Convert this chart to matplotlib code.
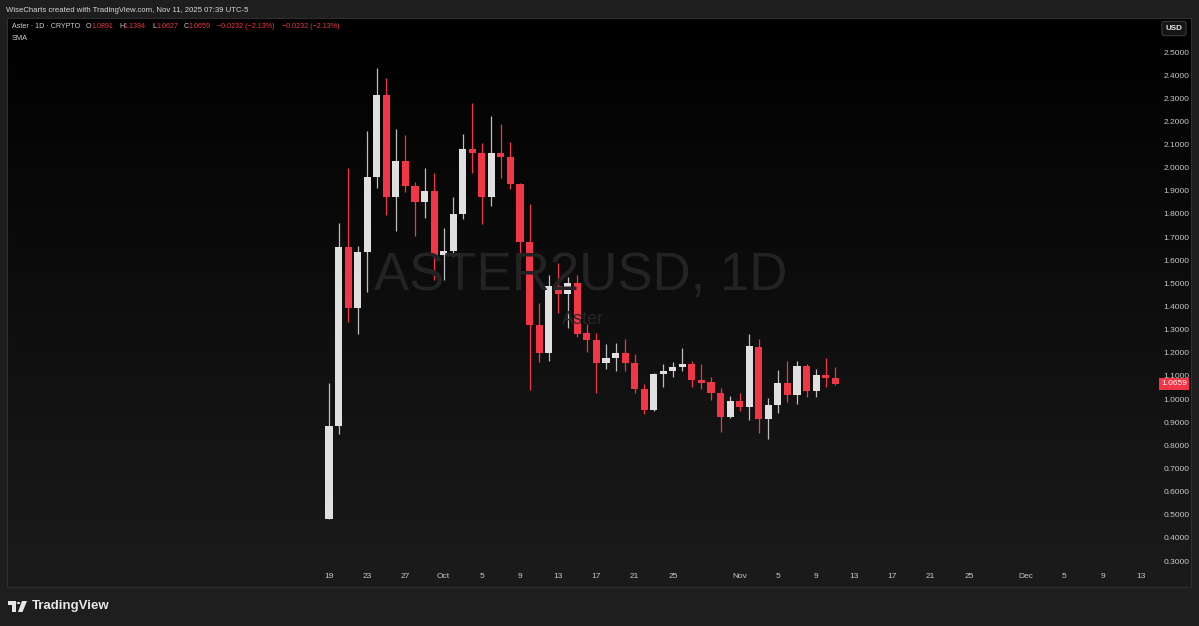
#Aster 1D candlestick chart in TradingView dark style
import numpy as np
import pandas as pd
import matplotlib
matplotlib.use('Agg')
import matplotlib.pyplot as plt
import matplotlib.dates as mdates
from matplotlib.colors import LinearSegmentedColormap
from matplotlib.patches import Polygon, Circle
from matplotlib.transforms import blended_transform_factory

#daily candles, Sep 19 - Nov 11 2025
dates = pd.date_range('2025-09-19', periods=54, freq='D')
opens = [0.48, 0.885, 1.656, 1.392, 1.637, 1.961, 2.313, 1.875, 2.030, 1.921,
         1.853, 1.899, 1.623, 1.640, 1.799, 2.081, 2.062, 1.872, 2.062, 2.045,
         1.930, 1.680, 1.320, 1.201, 1.489, 1.453, 1.503, 1.284, 1.255, 1.157,
         1.176, 1.201, 1.157, 1.042, 0.953, 1.108, 1.121, 1.140, 1.152, 1.083,
         1.075, 1.028, 0.921, 0.993, 0.965, 1.226, 0.913, 0.974, 1.071, 1.018,
         1.143, 1.036, 1.104, 1.0891]
highs = [1.07, 1.76, 1.997, 1.66, 2.159, 2.43, 2.386, 2.166, 2.141, 1.94,
         1.997, 1.976, 1.738, 1.872, 2.146, 2.278, 2.105, 2.223, 2.188, 2.112,
         1.935, 1.843, 1.417, 1.536, 1.587, 1.529, 1.536, 1.325, 1.284, 1.238,
         1.241, 1.258, 1.195, 1.065, 1.114, 1.152, 1.159, 1.220, 1.166, 1.152,
         1.094, 1.047, 1.013, 1.025, 1.281, 1.258, 1.003, 1.126, 1.166, 1.166,
         1.152, 1.129, 1.176, 1.1394]
lows = [0.48, 0.85, 1.335, 1.281, 1.464, 1.911, 1.796, 1.728, 1.896, 1.705,
        1.784, 1.515, 1.515, 1.62, 1.777, 1.976, 1.757, 1.834, 1.954, 1.907,
        1.60, 1.039, 1.162, 1.165, 1.371, 1.306, 1.27, 1.205, 1.025, 1.129,
        1.123, 1.123, 1.028, 0.936, 0.95, 1.051, 1.094, 1.123, 1.051, 1.042,
        0.996, 0.859, 0.917, 0.950, 0.910, 0.852, 0.826, 0.939, 0.989, 0.979,
        1.010, 1.010, 1.051, 1.0627]
closes = [0.885, 1.656, 1.392, 1.637, 1.961, 2.313, 1.875, 2.030, 1.921, 1.853,
          1.899, 1.623, 1.640, 1.799, 2.081, 2.062, 1.872, 2.062, 2.045, 1.930,
          1.680, 1.320, 1.201, 1.489, 1.453, 1.503, 1.281, 1.255, 1.157, 1.176,
          1.201, 1.157, 1.042, 0.953, 1.108, 1.121, 1.140, 1.152, 1.083, 1.071,
          1.025, 0.921, 0.993, 0.965, 1.229, 0.913, 0.974, 1.071, 1.018, 1.143,
          1.036, 1.104, 1.090, 1.0659]

#axis ticks
xtick_dates = ['2025-09-19', '2025-09-23', '2025-09-27', '2025-10-01', '2025-10-05',
               '2025-10-09', '2025-10-13', '2025-10-17', '2025-10-21', '2025-10-25',
               '2025-11-01', '2025-11-05', '2025-11-09', '2025-11-13', '2025-11-17',
               '2025-11-21', '2025-11-25', '2025-12-01', '2025-12-05', '2025-12-09',
               '2025-12-13']
xtick_labels = ['19', '23', '27', 'Oct', '5', '9', '13', '17', '21', '25',
                'Nov', '5', '9', '13', '17', '21', '25', 'Dec', '5', '9', '13']
ytick_values = [0.3, 0.4, 0.5, 0.6, 0.7, 0.8, 0.9, 1.0, 1.1, 1.2, 1.3, 1.4,
                1.5, 1.6, 1.7, 1.8, 1.9, 2.0, 2.1, 2.2, 2.3, 2.4, 2.5]
last_price = 1.0659

UP = '#e0e0e0'
DOWN = '#f23645'
FONT = 'Liberation Sans'
W, H = 1199, 626

def fx(p):  #pixel -> figure fraction
    return p / W
def fy(p):
    return 1 - p / H

fig = plt.figure(figsize=(W / 100, H / 100), dpi=100, facecolor='#1e1e1e')
ax = fig.add_axes([fx(7), fy(587), (1191 - 7) / W, (587 - 18) / H])

#pane background gradient
cmap = LinearSegmentedColormap.from_list('bg', ['#000000', '#1b1b1b'])
ax.imshow(np.linspace(0, 1, 256).reshape(-1, 1), cmap=cmap, aspect='auto',
          extent=[0, 1, 0, 1], transform=ax.transAxes, zorder=0)

x = mdates.date2num(dates)
o = np.array(opens); c = np.array(closes)
cols = [UP if cc >= oo else DOWN for oo, cc in zip(o, c)]
wick_cols = ['#bdbdbd' if cc >= oo else DOWN for oo, cc in zip(o, c)]
ax.vlines(x, lows, highs, colors=wick_cols, linewidth=0.9, zorder=2)
ax.bar(x, np.maximum(np.abs(c - o), 0.005), width=0.74, bottom=np.minimum(o, c),
       color=cols, linewidth=0, zorder=3)

x0 = mdates.date2num(pd.Timestamp('2025-09-19'))
ax.set_xlim(x0 - 33.72, x0 + 90.26)
ax.set_ylim(0.188, 2.647)

ax.set_xticks(mdates.date2num(pd.to_datetime(xtick_dates)))
ax.set_xticklabels(xtick_labels, fontsize=6, color='#c8c8c8', family=FONT)
ax.yaxis.tick_right()
ax.set_yticks(ytick_values)
ax.set_yticklabels([f'{v:.4f}' for v in ytick_values], fontsize=6,
                   color='#c8c8c8', family=FONT)
ax.tick_params(axis='x', length=0, pad=-10)
ax.tick_params(axis='y', length=0, pad=-20)
for s in ax.spines.values():
    s.set_color('#2f2f2f')

#last price tag
tr = blended_transform_factory(ax.transAxes, ax.transData)
ax.text((1161 - 7) / 1184, last_price, f'{last_price:.4f}', transform=tr,
        ha='left', va='center', fontsize=6, color='white', family=FONT, zorder=5,
        bbox=dict(boxstyle='square,pad=0.3', fc=DOWN, ec='none'))

#watermark
fig.text(fx(581), fy(276), 'ASTER2USD, 1D', ha='center', va='center',
         fontsize=38, color='#232323', family=FONT, zorder=1)
fig.text(fx(583), fy(320), 'Aster', ha='center', va='center',
         fontsize=13, color='#262626', family=FONT, zorder=1)

#header
fig.text(fx(6), fy(10), 'WiseCharts created with TradingView.com, Nov 11, 2025 07:39 UTC-5',
         ha='left', va='center', fontsize=5.6, color='#d8d8d8', family=FONT)
hdr = [(12, 'Aster \u00b7 1D \u00b7 CRYPTO', '#d0d0d0'),
       (86, 'O', '#d0d0d0'), (91.5, '1.0891', DOWN),
       (119, 'H', '#d0d0d0'), (123, '1.1394', DOWN),
       (152.5, 'L', '#d0d0d0'), (156, '1.0627', DOWN),
       (184, 'C', '#d0d0d0'), (188.5, '1.0659', DOWN),
       (217, '\u22120.0232 (\u22122.13%)', DOWN),
       (281.5, '\u22120.0232 (\u22122.13%)', DOWN)]
for px_, t, col in hdr:
    fig.text(fx(px_), fy(27), t, ha='left', va='center', fontsize=5.1,
             color=col, family=FONT)
fig.text(fx(12), fy(38.5), 'SMA', ha='left', va='center', fontsize=5.3,
         color='#d0d0d0', family=FONT)

#currency box
fig.text(fx(1174), fy(28.5), 'USD', ha='center', va='center', fontsize=5.8,
         color='#e8e8e8', family=FONT, weight='bold',
         bbox=dict(boxstyle='round,pad=0.45,rounding_size=0.3', fc='#141414', ec='#3a3a3a', lw=0.8))

#TradingView logo
def pts(lst):
    return [(fx(a), fy(b)) for a, b in lst]
fig.patches.append(Polygon(pts([(8, 601), (16, 601), (16, 612), (12.5, 612), (12.5, 605), (8, 605)]),
                           closed=True, fc='#e6e6e6', ec='none', transform=fig.transFigure))
fig.patches.append(Circle((fx(18.5), fy(603)), 1.9 / W, fc='#e6e6e6', ec='none',
                          transform=fig.transFigure))
fig.patches.append(Polygon(pts([(22, 601), (27, 601), (22.5, 612), (18, 612)]),
                           closed=True, fc='#e6e6e6', ec='none', transform=fig.transFigure))
fig.text(fx(32), fy(606.5), 'TradingView', ha='left', va='center', fontsize=9.5,
         color='#e6e6e6', family=FONT, weight='bold')

fig.savefig('out.png', dpi=100, facecolor=fig.get_facecolor())
